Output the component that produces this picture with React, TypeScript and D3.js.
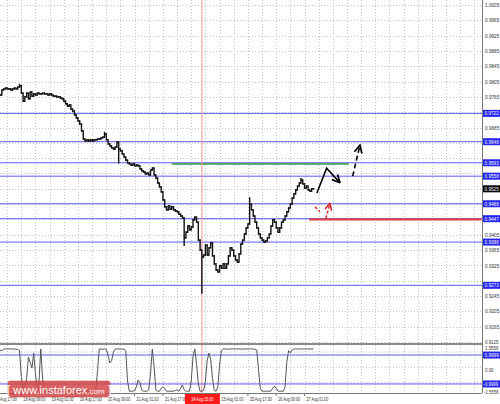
import React from "react";
import * as d3 from "d3";

// hourly bars, first one is bar #4 (bar 0 = 17 Aug 17:00)
const FIRST_BAR = 4;
const closes = [
  0.9770, 0.9783, 0.9786, 0.9788, 0.9786, 0.9786, 0.9783, 0.9786, 0.9788, 0.9786,
  0.9791, 0.9794, 0.9775, 0.9754, 0.9765, 0.9775, 0.9760, 0.9778, 0.9767, 0.9773,
  0.9770, 0.9775, 0.9773, 0.9773, 0.9775, 0.9773, 0.9773, 0.9770, 0.9773, 0.9770,
  0.9767, 0.9767, 0.9765, 0.9765, 0.9762, 0.9760, 0.9754, 0.9747, 0.9741, 0.9744,
  0.9733, 0.9728, 0.9718, 0.9710, 0.9702, 0.9694, 0.9676, 0.9655, 0.9650, 0.9653,
  0.9650, 0.9653, 0.9650, 0.9653, 0.9653, 0.9655, 0.9655, 0.9658, 0.9660, 0.9668,
  0.9653, 0.9642, 0.9637, 0.9632, 0.9629, 0.9634, 0.9647, 0.9629, 0.9624, 0.9616,
  0.9608, 0.9600, 0.9593, 0.9590, 0.9587, 0.9590, 0.9585, 0.9587, 0.9585, 0.9577,
  0.9572, 0.9569, 0.9564, 0.9566, 0.9561, 0.9574, 0.9579, 0.9561, 0.9553, 0.9540,
  0.9530, 0.9517, 0.9496, 0.9478, 0.9470, 0.9480, 0.9472, 0.9478, 0.9470, 0.9467,
  0.9465, 0.9459, 0.9454, 0.9449, 0.9397, 0.9412, 0.9428, 0.9418, 0.9425, 0.9444,
  0.9451, 0.9438, 0.9391, 0.9365, 0.9347, 0.9352, 0.9378, 0.9352, 0.9371, 0.9384,
  0.9350, 0.9329, 0.9313, 0.9308, 0.9324, 0.9318, 0.9329, 0.9318, 0.9329, 0.9350,
  0.9371, 0.9365, 0.9350, 0.9339, 0.9334, 0.9355, 0.9381, 0.9391, 0.9407, 0.9423,
  0.9433, 0.9485, 0.9470, 0.9454, 0.9438, 0.9423, 0.9407, 0.9397, 0.9391, 0.9386,
  0.9389, 0.9397, 0.9407, 0.9428, 0.9444, 0.9438, 0.9423, 0.9412, 0.9423, 0.9438,
  0.9444, 0.9454, 0.9465, 0.9475, 0.9485, 0.9501, 0.9512, 0.9522, 0.9532, 0.9540,
  0.9548, 0.9538, 0.9527, 0.9532, 0.9522, 0.9519, 0.9525, 0.9525,
];

// long shadows: [bar, price]
const wicks = [
  [15, 0.9797], [63, 0.9672], [71, 0.9593], [108, 0.9378],
  [118, 0.9253], [145, 0.9501], [174, 0.9551],
];

// oscillator in the lower window, same bars
const oscillator = [
  1.35, 1.30, 1.40, 1.42, 1.42, 1.42, 1.42, 1.42, 1.42, 1.40,
  1.38, 1.30, -0.50, -1.45, -1.50, -0.60, 0.85, 0.50, 0.10, 1.14,
  -0.30, -1.45, -0.80, 1.42, -0.60, -1.50, -1.50, -1.50, -1.52, -1.50,
  -1.50, -1.48, -1.50, -1.52, -1.50, -1.50, -1.50, -1.52, -1.50, -1.50,
  -1.50, -1.48, -1.50, -1.50, -1.52, -1.50, -1.50, -1.50, -1.50, -1.52,
  -1.50, -1.50, -1.48, -1.50, -1.45, -0.20, 1.42, 1.42, 1.40, 1.42,
  1.40, 1.00, 0.45, 0.60, 1.20, 1.42, 1.42, 1.42, 1.42, 1.40,
  1.42, 1.30, -0.80, -1.50, -1.50, -1.50, -1.45, -1.20, -0.73, -0.90,
  -1.40, -1.50, -1.50, -1.50, -1.40, -0.30, 1.42, 0.20, -1.40, -1.50,
  -1.50, -1.30, -1.20, -1.30, -1.50, -1.50, -1.50, -1.50, -1.50, -1.45,
  -1.40, -1.50, -1.30, -1.07, -1.40, -1.50, -1.50, -1.50, -0.80, 0.90,
  1.42, 0.40, -1.00, -1.50, -1.50, -1.45, -0.80, 0.60, 1.14, 0.70,
  -0.60, -1.45, -1.50, -1.20, 0.30, 1.30, 1.42, 1.42, 1.42, 1.40,
  1.42, 1.42, 1.43, 1.42, 1.42, 1.42, 1.40, 1.42, 1.42, 1.42,
  1.42, 1.42, 1.42, 1.42, 1.40, 1.35, 0.00, -1.30, -1.50, -1.50,
  -1.50, -1.50, -1.50, -1.50, -1.30, -1.15, -1.30, -1.50, -1.50, -1.50,
  -1.50, -1.20, 0.50, 1.30, 1.14, 1.35, 1.42, 1.42, 1.42, 1.42,
  1.42, 1.42, 1.42, 1.42, 1.42, 1.42, 1.42, 1.42,
];

const priceTicks = d3.range(0, 23).map((k) => +(1.0005 - k * 0.004).toFixed(4));
const levels = [0.9722, 0.9648, 0.9593, 0.9558, 0.9486, 0.9447, 0.9386, 0.9273];
const lastPrice = 0.9525;
const oscTicks = [1.5556, 0, -1.5556];
const oscLevels = [0.9999, -0.9999];

const timeLabels = [
  "17 Aug 17:00", "18 Aug 09:00", "19 Aug 01:00", "19 Aug 17:00",
  "20 Aug 09:00", "21 Aug 01:00", "21 Aug 17:00", "24 Aug 09:00",
  "25 Aug 01:00", "25 Aug 17:00", "26 Aug 09:00", "27 Aug 01:00",
];
const BARS_PER_LABEL = 16;
const cursorBar = 118;
const cursorLabel = "24 Aug 15:00";

// drawn objects, [bar, price]
const greenLine = [[101, 0.959], [201, 0.959]];
const redLine = [[178.5, 0.9445], [276, 0.9445]];
const blackArrow = [[183, 0.9514], [188.5, 0.9579], [196, 0.9541]];
const blackDashed = [[203.2, 0.9558], [207.3, 0.9639]];
const redDashA = [[181.9, 0.9478], [184.7, 0.9465]];
const redDashB = [[188.1, 0.9448], [190.4, 0.9487]];

const W = 500;
const PLOT_R = 482;
const MAIN_BOTTOM = 344;
const OSC_BOTTOM = 393;
const font = "'Liberation Sans', Arial, sans-serif";

// terminal fonts are narrow, squeeze the glyphs horizontally
function Small(props: { x: number; y: number; sx: number; size?: number; fill?: string; anchor?: string; children: any }) {
  const { x, y, sx, size = 6, fill = "#333", anchor = "start", children } = props;
  return (
    <text
      transform={`translate(${x},${y}) scale(${sx},1)`}
      fontSize={size}
      fill={fill}
      textAnchor={anchor}
    >
      {children}
    </text>
  );
}

export default function App() {
  const x = d3.scaleLinear().domain([0, 276]).range([-7, -7 + 1.77 * 276]);
  const y = d3.scaleLinear().domain([0.9125, 1.0005]).range([342, 5]);
  const yo = d3.scaleLinear().domain([-1.5556, 1.5556]).range([392, 347]);

  const bars = closes.map((c, k) => {
    const i = FIRST_BAR + k;
    const o = k === 0 ? c : closes[k - 1];
    const extra = wicks.filter((w) => w[0] === i).map((w) => w[1]);
    const hi = Math.max(o, c, ...extra);
    const lo = Math.min(o, c, ...extra);
    return { i, o, c, hi, lo };
  });

  const oscLine = d3
    .line<number>()
    .x((_, k) => x(FIRST_BAR + k))
    .y((v) => yo(v));

  const pl = d3
    .line<number[]>()
    .x((d) => x(d[0]))
    .y((d) => y(d[1]));

  const vGrid = d3.range(0, 276, 8);

  // axis labels hidden under the level boxes, like the terminal does
  const boxYs = [...levels, lastPrice].map((p) => y(p));
  const shownTicks = priceTicks.filter((p) => boxYs.every((by) => Math.abs(by - y(p)) > 7));

  const PX = 0.78; // price label squeeze
  const TX = 0.62; // time label squeeze

  return (
    <svg
      width={W}
      height={404}
      style={{ position: "absolute", left: 0, top: 0, background: "#fff" }}
      fontFamily={font}
    >
      <defs>
        <clipPath id="plot">
          <rect x={0} y={0} width={PLOT_R} height={MAIN_BOTTOM} />
        </clipPath>
        <clipPath id="osc">
          <rect x={0} y={MAIN_BOTTOM + 1} width={PLOT_R} height={OSC_BOTTOM - MAIN_BOTTOM - 1} />
        </clipPath>
        <marker id="headB" viewBox="0 0 10 10" refX="9" refY="5" markerWidth="6" markerHeight="6" orient="auto">
          <path d="M1,1 L9,5 L1,9" fill="none" stroke="#000" strokeWidth={1.8} />
        </marker>
        <marker id="headR" viewBox="0 0 10 10" refX="9" refY="5" markerWidth="6" markerHeight="6" orient="auto">
          <path d="M1,1 L9,5 L1,9" fill="none" stroke="#e02020" strokeWidth={1.8} />
        </marker>
      </defs>

      {/* grid */}
      <g stroke="#c4c4c4" strokeDasharray="1,2" strokeWidth={1}>
        {priceTicks.map((p) => (
          <line key={p} x1={0} x2={PLOT_R} y1={Math.round(y(p)) + 0.5} y2={Math.round(y(p)) + 0.5} />
        ))}
        {vGrid.map((b) => (
          <line key={b} x1={Math.round(x(b)) + 0.5} x2={Math.round(x(b)) + 0.5} y1={0} y2={OSC_BOTTOM} />
        ))}
        {d3.range(0, 3).map((k) => (
          <line key={"og" + k} x1={0} x2={PLOT_R} y1={352 + k * 15.3} y2={352 + k * 15.3} />
        ))}
      </g>

      {/* support / resistance levels */}
      <g stroke="#5a5af0" strokeWidth={1}>
        {levels.map((p) => (
          <line key={p} x1={0} x2={PLOT_R} y1={y(p)} y2={y(p)} />
        ))}
      </g>
      <path d={pl(greenLine as any) || ""} stroke="#2e9a3a" strokeWidth={1.5} fill="none" />
      <path d={pl(redLine as any) || ""} stroke="#e03a3a" strokeWidth={2} fill="none" />

      {/* cursor */}
      <line x1={x(cursorBar)} x2={x(cursorBar)} y1={0} y2={OSC_BOTTOM} stroke="#f59090" strokeWidth={1} />

      {/* price bars */}
      <g clipPath="url(#plot)" stroke="#111" strokeWidth={1.4}>
        {bars.map((b) => {
          const cx = x(b.i);
          return (
            <g key={b.i}>
              <line x1={cx} x2={cx} y1={y(b.hi) - 0.8} y2={y(b.lo) + 0.8} />
              <line x1={cx - 1} x2={cx} y1={y(b.o)} y2={y(b.o)} />
              <line x1={cx} x2={cx + 1} y1={y(b.c)} y2={y(b.c)} />
            </g>
          );
        })}
      </g>

      {/* forecast arrows */}
      <path d={pl(blackArrow as any) || ""} stroke="#000" strokeWidth={1.6} fill="none" markerEnd="url(#headB)" />
      <path d={pl(blackDashed as any) || ""} stroke="#000" strokeWidth={1.6} strokeDasharray="5,3" fill="none" markerEnd="url(#headB)" />
      <path d={pl(redDashA as any) || ""} stroke="#e02020" strokeWidth={1.4} strokeDasharray="3,2" fill="none" />
      <path d={pl(redDashB as any) || ""} stroke="#e02020" strokeWidth={1.4} strokeDasharray="3,2" fill="none" markerEnd="url(#headR)" />

      {/* window separator */}
      <line x1={0} x2={PLOT_R} y1={MAIN_BOTTOM} y2={MAIN_BOTTOM} stroke="#8a8a8a" strokeWidth={2} />

      {/* oscillator window */}
      <g stroke="#5a5af0" strokeWidth={1}>
        {oscLevels.map((v) => (
          <line key={v} x1={0} x2={PLOT_R} y1={yo(v)} y2={yo(v)} />
        ))}
      </g>
      <path clipPath="url(#osc)" d={oscLine(oscillator) || ""} stroke="#555" strokeWidth={1} fill="none" />

      {/* frame */}
      <line x1={PLOT_R + 0.5} x2={PLOT_R + 0.5} y1={0} y2={OSC_BOTTOM} stroke="#777" />
      <line x1={0} x2={PLOT_R} y1={OSC_BOTTOM + 0.5} y2={OSC_BOTTOM + 0.5} stroke="#777" />

      {/* price axis */}
      {shownTicks.map((p) => (
        <Small key={p} x={485} y={y(p) + (p === 0.9125 ? 1.5 : 2.1)} sx={PX} size={p === 0.9125 ? 5.6 : 6}>
          {p.toFixed(4)}
        </Small>
      ))}
      {oscTicks.map((v) => (
        <Small key={"ot" + v} x={v < 0 ? 484 : 485} y={yo(v) + (v > 0 ? 3 : v < 0 ? 2.4 : 2.1)} sx={PX} size={5.6}>
          {v === 0 ? "0.00" : v.toFixed(4)}
        </Small>
      ))}
      {levels.map((p) => (
        <g key={"b" + p}>
          <rect x={483} y={y(p) - 3.5} width={17} height={7} fill="#2323f0" />
          <Small x={484.5} y={y(p) + 2.1} sx={PX} fill="#fff">
            {p.toFixed(4)}
          </Small>
        </g>
      ))}
      {oscLevels.map((v) => (
        <g key={"ob" + v}>
          <rect x={483} y={yo(v) - 3.5} width={17} height={7} fill="#2323f0" />
          <Small x={v < 0 ? 483.5 : 484.5} y={yo(v) + 2.1} sx={v < 0 ? 0.72 : PX} fill="#fff">
            {v.toFixed(4)}
          </Small>
        </g>
      ))}
      <rect x={483} y={y(lastPrice) - 3.5} width={17} height={7} fill="#000" />
      <Small x={484.5} y={y(lastPrice) + 2.1} sx={PX} fill="#fff">
        {lastPrice.toFixed(4)}
      </Small>

      {/* time axis */}
      {timeLabels.map((t, k) => {
        const tx = x(k * BARS_PER_LABEL);
        const hidden = Math.abs(k * BARS_PER_LABEL - cursorBar) < 8;
        return (
          <g key={t}>
            <line x1={tx} x2={tx} y1={OSC_BOTTOM} y2={OSC_BOTTOM + 3} stroke="#777" />
            {!hidden && (
              <Small x={tx + 2} y={401} sx={TX}>
                {t}
              </Small>
            )}
          </g>
        );
      })}
      <rect x={x(cursorBar) - 17} y={394} width={35} height={10} fill="#ff1a1a" />
      <Small x={x(cursorBar) + 0.5} y={401.3} sx={TX} fill="#fff" anchor="middle">
        {cursorLabel}
      </Small>

      {/* watermark */}
      <rect x={8} y={381} width={102} height={16} rx={2} fill="#d44848" fillOpacity={0.85} stroke="#c03a3a" strokeWidth={0.5} />
      <text x={59} y={393.5} textAnchor="middle" fill="#fff">
        <tspan fontSize={12}>[ </tspan>
        <tspan fontSize={11}>www.instaforex</tspan>
        <tspan fontSize={8}>.com</tspan>
        <tspan fontSize={12}> ]</tspan>
      </text>
    </svg>
  );
}
